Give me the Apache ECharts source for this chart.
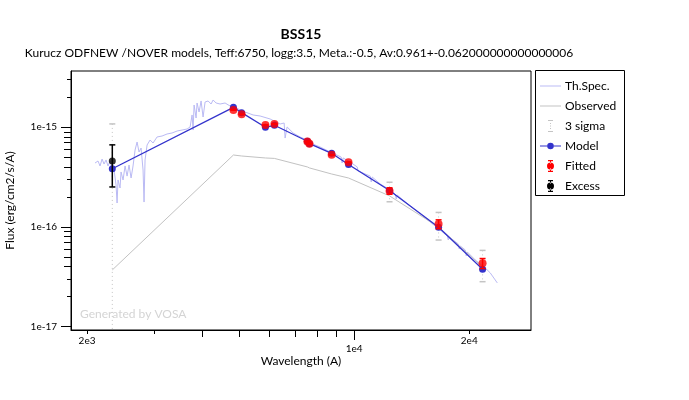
<!DOCTYPE html>
<html>
<head>
<meta charset="utf-8">
<script src="https://cdn.jsdelivr.net/npm/echarts@6/dist/echarts.min.js"></script>
<style>
  html, body { margin: 0; padding: 0; background: #fff; }
  #main { width: 689px; height: 400px; }
</style>
</head>
<body>
<div id="main"></div>
<script>
// all fluxes in units of 1e-16 erg/cm2/s/A, wavelengths in A
var FLUX_UNIT = 1e-16;

var specWave = [2099,2137,2163,2190,2216,2243,2270,2298,2326,2354,2382,2397,2411,2440,2455,2485,2515,2546,2576,2608,
  2639,2671,2704,2736,2770,2803,2820,2837,2872,2924,2977,3050,3143,3239,3338,3441,3546,3654,3721,3766,
  3789,3812,3858,3881,3928,3976,4024,4073,4147,4223,4274,4352,4458,4594,4735,4880,5029,5183,5440,5674,
  6026,6400,6557,6596,6676,6922,7220,7532,7904,8145,8650,9244,9300,9356,9762,10183,10244,10368,11012,11079,
  11146,11697,12424,12804,12882,12960,14019,14888,15811,16796,17520,17626,17733,18720,18833,18947,19527,19645,19764,20743,
  22030,22703,23681];
var specFlux = [4.38,4.59,4.09,4.80,4.28,4.70,4.09,4.59,4.00,3.73,2.64,1.74,2.96,2.46,3.56,2.96,4.09,3.24,4.18,3.10,
  4.09,5.91,7.11,5.65,6.19,3.73,1.78,4.70,6.64,7.45,6.95,7.99,8.17,8.56,8.76,9.17,9.38,9.60,10.06,13.27,
  9.38,16.71,12.38,17.50,14.22,18.34,12.67,17.91,18.34,17.10,18.76,17.50,17.10,17.50,16.33,15.96,14.89,14.22,13.27,12.97,
  12.10,10.78,11.03,7.80,10.06,8.76,7.99,7.45,6.64,6.34,5.65,5.03,4.38,4.92,4.48,4.00,3.64,3.81,3.24,2.83,
  3.17,2.70,2.35,2.14,1.91,2.09,1.62,1.35,1.12,0.933,0.812,0.741,0.794,0.676,0.602,0.645,0.588,0.512,0.562,0.467,
  0.388,0.346,0.275];

var obsWave = [2329,4831,5076,5858,6184,7543,7638,8730,9663,12373,16626,21670];
var obsFlux = [0.371,5.27,5.15,4.92,4.87,4.00,3.91,3.40,3.10,2.05,1.00,0.397];

var modelWave = [2329,4831,5076,5858,6184,7543,7638,8730,9663,12373,16626,21670];
var modelFlux = [3.84,15.85,14.0,9.99,10.47,7.24,6.85,5.48,4.23,2.32,0.993,0.377];

var fitWave = [4831,5076,5858,6184,7543,7638,8730,9663,12373,16626,21670];
var fitFlux = [14.89,13.48,10.53,10.78,7.19,6.83,5.29,4.46,2.30,1.07,0.433];
var fitErr  = [0.03,0.03,0.02,0.02,0.015,0.015,0.01,0.01,0.17,0.11,0.05];

var excessWave = [2329];
var excessFlux = [4.59];
var excessErr  = [2.07];

// axis limits and ticks
var waveMin = 1816, waveMax = 29010;
var fluxMin = 9.277e-18, fluxMax = 3.664e-15;
var xTicksShort = [2000, 3000, 20000];
var xTicksMid = [4000, 5000, 6000, 7000, 8000, 9000];
var xTicksLong = [10000];
var xLabelsNear = [2000, 20000];
var xLabelsFar = [10000];
var yTicksLong = [1e-17, 1e-16, 1e-15];
var yTicksMid = [4e-17,5e-17,6e-17,7e-17,8e-17,9e-17,4e-16,5e-16,6e-16,7e-16,8e-16,9e-16];
var yTicksShort = [2e-17,3e-17,2e-16,3e-16,2e-15,3e-15];

var lg = Math.log10;
var FONT = 'Lato, "Open Sans", sans-serif';

function pts(w, f) {
  return w.map(function (v, i) { return [lg(v), lg(f[i] * FLUX_UNIT)]; });
}
function expLabel(v) {
  var w = Math.pow(10, v);
  var e = Math.floor(v + 1e-9);
  var m = Math.round(w / Math.pow(10, e));
  return m + 'e' + e;
}

var yMin = lg(fluxMin), yMax = lg(fluxMax);

function xAxisOf(ticks, len, labels, margin, extra) {
  var a = {
    type: 'value', min: lg(waveMin), max: lg(waveMax), position: 'bottom',
    axisLine: { show: !!extra, lineStyle: { color: '#000', width: 1 } },
    splitLine: { show: false },
    axisTick: { show: true, length: len, customValues: ticks.map(lg), lineStyle: { color: '#000' } },
    axisLabel: labels ? { show: true, customValues: labels.map(lg), margin: margin, formatter: expLabel,
      color: '#000', fontSize: 10, fontFamily: FONT } : { show: false }
  };
  if (extra) for (var k in extra) a[k] = extra[k];
  return a;
}
function yAxisOf(ticks, len, labels, extra) {
  var a = {
    type: 'value', min: yMin, max: yMax, position: 'left',
    axisLine: { show: !!extra, lineStyle: { color: '#000', width: 1 } },
    splitLine: { show: false },
    axisTick: { show: true, length: len, customValues: ticks.map(lg), lineStyle: { color: '#000' } },
    axisLabel: labels ? { show: true, customValues: labels.map(lg), margin: 14,
      formatter: function (v) { return '1e' + Math.round(v); },
      color: '#000', fontSize: 10, fontFamily: FONT } : { show: false }
  };
  if (extra) for (var k in extra) a[k] = extra[k];
  return a;
}

// error bar data: [x, low, high, lowCap]
var sigmaData = fitWave.map(function (w, i) {
  return [lg(w), lg((fitFlux[i] - 3 * fitErr[i]) * FLUX_UNIT), lg((fitFlux[i] + 3 * fitErr[i]) * FLUX_UNIT), 1];
});
excessWave.forEach(function (w, i) {
  var lo = excessFlux[i] - 3 * excessErr[i];
  sigmaData.push([lg(w), lo > 0 ? lg(lo * FLUX_UNIT) : yMin, lg((excessFlux[i] + 3 * excessErr[i]) * FLUX_UNIT), lo > 0 ? 1 : 0]);
});
var fitErrData = fitWave.map(function (w, i) {
  return [lg(w), lg((fitFlux[i] - fitErr[i]) * FLUX_UNIT), lg((fitFlux[i] + fitErr[i]) * FLUX_UNIT), 1];
});
var excessErrData = excessWave.map(function (w, i) {
  return [lg(w), lg((excessFlux[i] - excessErr[i]) * FLUX_UNIT), lg((excessFlux[i] + excessErr[i]) * FLUX_UNIT), 1];
});

function errBars(color, lw, dotted) {
  return function (params, api) {
    var x = api.value(0);
    var top = api.coord([x, api.value(2)]);
    var bot = api.coord([x, api.value(1)]);
    var st = { stroke: color, lineWidth: lw };
    if (dotted) st.lineDash = [1, 3];
    var kids = [
      { type: 'line', shape: { x1: top[0], y1: top[1], x2: bot[0], y2: bot[1] }, style: st },
      { type: 'line', shape: { x1: top[0] - 3, y1: top[1], x2: top[0] + 3, y2: top[1] }, style: { stroke: color, lineWidth: 1.5 } }
    ];
    if (api.value(3)) {
      kids.push({ type: 'line', shape: { x1: bot[0] - 3, y1: bot[1], x2: bot[0] + 3, y2: bot[1] }, style: { stroke: color, lineWidth: 1.5 } });
    }
    return { type: 'group', children: kids };
  };
}

var BOX = 'M0 0M21 12';
var icons = {
  line: 'path://' + BOX + 'M0 5.5h21v1h-21z',
  sigma: 'path://' + BOX + 'M8 0h5v1h-5zM8 11h5v1h-5zM10 3h1v1h-1zM10 5.5h1v1h-1zM10 8h1v1h-1z',
  model: 'path://' + BOX + 'M0 5.4h7.2v1.2h-7.2zM13.8 5.4h7.2v1.2h-7.2zM7.2 6a3.3 3.3 0 1 0 6.6 0a3.3 3.3 0 1 0 -6.6 0z',
  bar: 'path://' + BOX + 'M10 0.5h1v3h-1zM10 8.5h1v3h-1zM8 0h5v1.2h-5zM8 10.8h5v1.2h-5zM7 6a3.5 3.5 0 1 0 7 0a3.5 3.5 0 1 0 -7 0z'
};

var myChart = echarts.init(document.getElementById('main'));
var option = {
  animation: false,
  backgroundColor: '#fff',
  grid: { left: 71, right: 158, top: 71, bottom: 70, outerBoundsMode: 'none', show: true, borderColor: '#000', borderWidth: 1, backgroundColor: 'transparent' },
  xAxis: [
    xAxisOf(xTicksShort, 4, xLabelsNear, 6, null),
    xAxisOf(xTicksMid, 7, null, 0, null),
    xAxisOf(xTicksLong, 10, xLabelsFar, 14, {
      name: 'Wavelength (A)', nameLocation: 'middle', nameGap: 25, nameMoveOverlap: false,
      nameTextStyle: { color: '#000', fontSize: 12, fontFamily: FONT }
    })
  ],
  yAxis: [
    yAxisOf(yTicksShort, 4, null, null),
    yAxisOf(yTicksMid, 7, null, null),
    yAxisOf(yTicksLong, 10, yTicksLong, {
      name: 'Flux (erg/cm2/s/A)', nameLocation: 'middle', nameGap: 55, nameMoveOverlap: false,
      nameTextStyle: { color: '#000', fontSize: 12, fontFamily: FONT }
    })
  ],
  legend: {
    orient: 'vertical', left: 540, top: 80, padding: 0,
    itemWidth: 21, itemHeight: 12, itemGap: 8,
    itemStyle: { borderWidth: 0 },
    textStyle: { color: '#000', fontSize: 12, fontFamily: FONT, padding: [0, 0, 0, -1] },
    data: [
      { name: 'Th.Spec.', icon: icons.line },
      { name: 'Observed', icon: icons.line },
      { name: '3 sigma', icon: icons.sigma },
      { name: 'Model', icon: icons.model },
      { name: 'Fitted', icon: icons.bar },
      { name: 'Excess', icon: icons.bar }
    ]
  },
  graphic: [
    { type: 'rect', shape: { x: 535.5, y: 70.5, width: 89, height: 125 }, style: { fill: 'none', stroke: '#000', lineWidth: 1 } },
    { type: 'text', x: 301, y: 34, style: { text: 'BSS15', font: 'bold 14px ' + FONT, fill: '#000', align: 'center', verticalAlign: 'middle', textAlign: 'center', textVerticalAlign: 'middle' } },
    { type: 'text', x: 299, y: 53, style: { text: 'Kurucz ODFNEW /NOVER models, Teff:6750, logg:3.5, Meta.:-0.5, Av:0.961+-0.062000000000000006', font: '12px ' + FONT, fill: '#000', align: 'center', verticalAlign: 'middle', textAlign: 'center', textVerticalAlign: 'middle' } },
    { type: 'text', x: 80, y: 314, style: { text: 'Generated by VOSA', font: '12px ' + FONT, fill: '#d4d4d4', align: 'left', verticalAlign: 'middle', textAlign: 'left', textVerticalAlign: 'middle' } }
  ],
  series: [
    {
      name: 'Th.Spec.', type: 'line', data: pts(specWave, specFlux), symbol: 'none',
      itemStyle: { color: '#babaf4' }, lineStyle: { color: '#babaf4', width: 1 }, z: 1
    },
    {
      name: 'Observed', type: 'line', data: pts(obsWave, obsFlux), symbol: 'none',
      itemStyle: { color: '#c2c2c2' }, lineStyle: { color: '#c2c2c2', width: 1 }, z: 2
    },
    {
      name: '3 sigma', type: 'custom', data: sigmaData, renderItem: errBars('#c4c4c4', 1, true),
      itemStyle: { color: '#c4c4c4' }, z: 3
    },
    {
      name: 'Model', type: 'line', data: pts(modelWave, modelFlux), symbol: 'circle', symbolSize: 7, showSymbol: true,
      itemStyle: { color: '#3333cc', borderWidth: 0 }, lineStyle: { color: '#3333cc', width: 1.3 }, z: 4
    },
    {
      name: 'Fitted', type: 'custom', data: fitErrData, renderItem: errBars('#ff0000', 1.5, false),
      itemStyle: { color: '#ff0000' }, z: 5
    },
    {
      name: 'Fitted', type: 'scatter', data: pts(fitWave, fitFlux), symbol: 'circle', symbolSize: 8,
      itemStyle: { color: '#ff0000' }, z: 6
    },
    {
      name: 'Excess', type: 'custom', data: excessErrData, renderItem: errBars('#000', 1.5, false),
      itemStyle: { color: '#000' }, z: 7
    },
    {
      name: 'Excess', type: 'scatter', data: pts(excessWave, excessFlux), symbol: 'circle', symbolSize: 7,
      itemStyle: { color: '#000' }, z: 8
    }
  ]
};
myChart.setOption(option);
window.addEventListener('resize', function () { myChart.resize(); });
</script>
</body>
</html>
